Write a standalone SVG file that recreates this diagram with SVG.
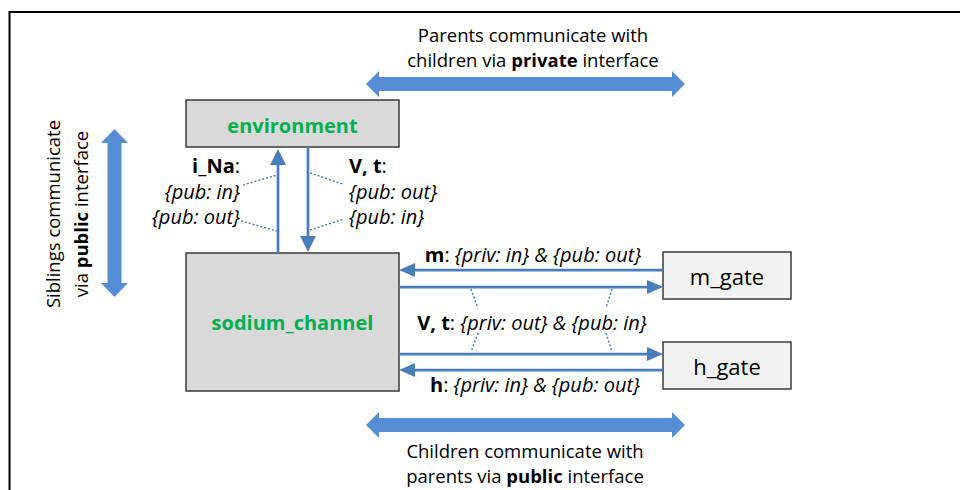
<svg xmlns="http://www.w3.org/2000/svg" width="960" height="490" viewBox="0 0 960 490">
<defs>
<style>
text{font-family:"Open Sans","Liberation Sans",sans-serif;font-size:18.5px;fill:#000}
.lb{font-size:20px}
.b{font-weight:bold}
.i{font-style:italic}
.node{fill:#d9d9d9;stroke:#3a3a3a;stroke-width:1.5}
.gate{fill:#f2f2f2;stroke:#3a3a3a;stroke-width:1.5}
.nl{font-size:20px;font-weight:bold;fill:#00b050;text-anchor:middle}
.gl{font-size:22px;text-anchor:middle}
.thin{stroke:#4a7ebb;stroke-width:2.75;fill:none}
.dot{stroke:#4a7ebb;stroke-width:1.5;stroke-dasharray:2 2;fill:none}
.big{fill:#558ed5}
</style>
<marker id="av" viewBox="0 0 16 16" refX="6" refY="8" markerWidth="16" markerHeight="16" markerUnits="userSpaceOnUse" orient="auto">
<path d="M0,0 L16,8 L0,16 z" fill="#4a7ebb"/>
</marker>
<marker id="ah" viewBox="0 0 16 14" refX="6" refY="7" markerWidth="16" markerHeight="14" markerUnits="userSpaceOnUse" orient="auto">
<path d="M0,0 L16,7 L0,14 z" fill="#4a7ebb"/>
</marker>
</defs>
<rect width="960" height="490" fill="#fff"/>
<path d="M9.5,490 V12 H960" fill="none" stroke="#000" stroke-width="2"/>

<g id="frame-arrows">
<polygon class="big" points="366,84 379,71 379,77 672,77 672,71 685,84 672,97 672,91 379,91 379,97"/>
<polygon class="big" points="366,425 379,412 379,418 672,418 672,412 685,425 672,438 672,432 379,432 379,438"/>
<polygon class="big" points="114.5,129 128,143 121.5,143 121.5,283 128,283 114.5,297 101,283 107.5,283 107.5,143 101,143"/>
</g>

<g id="notes">
<text x="533" y="42" text-anchor="middle">Parents communicate with</text>
<text x="533" y="67" text-anchor="middle">children via <tspan class="b">private</tspan> interface</text>
<text x="525" y="458" text-anchor="middle">Children communicate with</text>
<text x="525" y="483" text-anchor="middle">parents via <tspan class="b">public</tspan> interface</text>
<text transform="translate(60,214) rotate(-90)" text-anchor="middle">Siblings communicate</text>
<text transform="translate(88,214) rotate(-90)" text-anchor="middle">via <tspan class="b">public</tspan> interface</text>
</g>

<g id="environment">
<rect class="node" x="186" y="100" width="213" height="47"/>
<text class="nl" x="292.5" y="133">environment</text>
</g>
<g id="sodium_channel">
<rect class="node" x="186" y="253" width="213" height="138"/>
<text class="nl" x="292.5" y="330">sodium_channel</text>
</g>
<g id="m_gate">
<rect class="gate" x="663" y="252" width="128" height="47"/>
<text class="gl" x="727" y="285">m_gate</text>
</g>
<g id="h_gate">
<rect class="gate" x="663" y="342" width="128" height="47"/>
<text class="gl" x="727" y="375">h_gate</text>
</g>

<g id="connectors">
<line class="thin" x1="278" y1="253" x2="278" y2="159" marker-end="url(#av)"/>
<line class="thin" x1="308" y1="147" x2="308" y2="242" marker-end="url(#av)"/>
<line class="thin" x1="663" y1="270" x2="409" y2="270" marker-end="url(#ah)"/>
<line class="thin" x1="399" y1="287" x2="653" y2="287" marker-end="url(#ah)"/>
<line class="thin" x1="399" y1="354" x2="653" y2="354" marker-end="url(#ah)"/>
<line class="thin" x1="663" y1="370" x2="409" y2="370" marker-end="url(#ah)"/>
<line class="dot" x1="243" y1="185" x2="277" y2="175"/>
<line class="dot" x1="241" y1="221" x2="277" y2="231"/>
<line class="dot" x1="310" y1="173" x2="343" y2="184"/>
<line class="dot" x1="310" y1="230" x2="344" y2="219"/>
<line class="dot" x1="471" y1="289" x2="478" y2="308"/>
<line class="dot" x1="478" y1="333" x2="471" y2="352"/>
<line class="dot" x1="612" y1="289" x2="606" y2="308"/>
<line class="dot" x1="606" y1="333" x2="612" y2="352"/>
</g>

<g id="labels" class="lb">
<text class="lb" x="240" y="173" text-anchor="end"><tspan class="b">i_Na</tspan>:</text>
<text class="lb i" x="240" y="199" text-anchor="end">{pub: in}</text>
<text class="lb i" x="240" y="224" text-anchor="end">{pub: out}</text>
<text class="lb" x="349" y="173"><tspan class="b">V, t</tspan>:</text>
<text class="lb i" x="349" y="199">{pub: out}</text>
<text class="lb i" x="349" y="224">{pub: in}</text>
<text class="lb" x="533" y="262" text-anchor="middle"><tspan class="b">m</tspan>: <tspan class="i">{priv: in} &amp; {pub: out}</tspan></text>
<text class="lb" x="532" y="330" text-anchor="middle"><tspan class="b">V, t</tspan>: <tspan class="i">{priv: out} &amp; {pub: in}</tspan></text>
<text class="lb" x="535" y="392" text-anchor="middle"><tspan class="b">h</tspan>: <tspan class="i">{priv: in} &amp; {pub: out}</tspan></text>
</g>
</svg>
